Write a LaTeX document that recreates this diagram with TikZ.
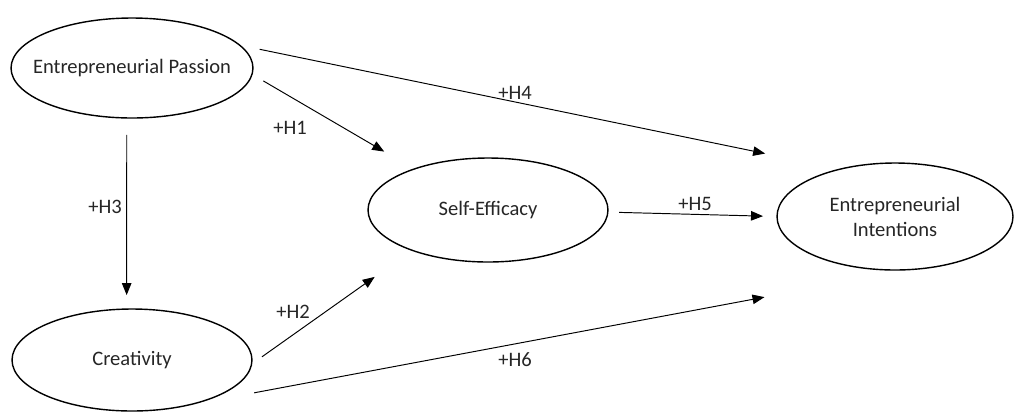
\documentclass[tikz,border=0pt]{standalone}
\usepackage{fontspec}
\setmainfont{Carlito}
\usepackage{tikz}
\usetikzlibrary{arrows.meta}
\usetikzlibrary{shapes.geometric}
\tikzset{  construct/.style={draw,ellipse,line width=0.8pt,inner sep=0pt,outer sep=0pt,align=center,text=black!85} }
\tikzset{  hyp/.style={font=\fontsize{11.7}{14.2}\selectfont,text=black!85} }
\newcommand{\zw}[1]{\makebox[0pt]{#1}}

\begin{document}
\begin{tikzpicture}[->,>={Triangle[length=0.24cm,width=0.19cm]},line width=0.55pt,
  x=0.02cm,y=-0.02cm,font=\fontsize{11.7}{14.2}\selectfont]
  \useasboundingbox (0,0) rectangle (1014,414);
  \node[construct,minimum width=4.84cm,minimum height=2cm] (ep) at (132,68) {\zw{Entrepreneurial Passion}};
  \node[construct,minimum width=4.8cm,minimum height=2.04cm] (cr) at (132,360) {\zw{Creativity}};
  \node[construct,minimum width=4.8cm,minimum height=2.08cm] (se) at (488,210) {\zw{Self-Efficacy}};
  \node[construct,minimum width=4.72cm,minimum height=2.14cm] (ei) at (895,216.5) {\zw{Entrepreneurial}\\\zw{Intentions}};
  \draw[shorten <=0.262cm,shorten >=0.692cm] (ep.-3.5) -- (se.151.6);
  \draw[shorten <=0.256cm,shorten >=0.92cm] (cr.-2.1) -- (se.208.1);
  \draw[shorten <=0.34cm,shorten >=0.28cm] (ep.-96.9) -- (cr.96.7);
  \draw[shorten <=0.41cm,shorten >=1.538cm] (ep.12.8) -- (ei.139.1);
  \draw[shorten <=0.224cm,shorten >=0.28cm] (se.-1.3) -- (ei.180.7);
  \draw[shorten <=1.444cm,shorten >=3.006cm] (cr.-42.9) -- (ei.-72.5);
  \node[hyp] (h1) at (290,128) {+H1};
  \node[hyp] (h2) at (293,312) {+H2};
  \node[hyp] (h3) at (105,207) {+H3};
  \node[hyp] (h4) at (515,93) {+H4};
  \node[hyp] (h5) at (695,204) {+H5};
  \node[hyp] (h6) at (515,360) {+H6};
\end{tikzpicture}
\end{document}
